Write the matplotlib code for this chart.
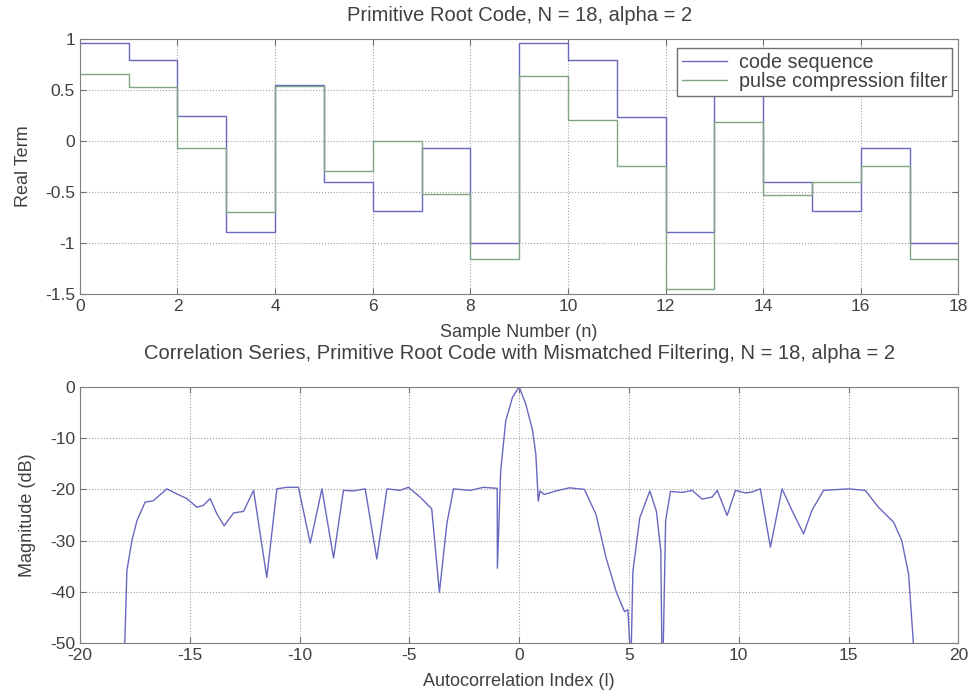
import numpy as np
import matplotlib
matplotlib.use("Agg")
import matplotlib.pyplot as plt

# top panel: real part per sample, n = 0..17
samples = np.arange(19)
code_seq = [0.96, 0.79, 0.25, -0.89, 0.55, -0.40, -0.685, -0.07, -1.0,
            0.96, 0.79, 0.24, -0.89, 0.55, -0.40, -0.69, -0.07, -1.0]
pc_filter = [0.66, 0.53, -0.07, -0.70, 0.54, -0.29, 0.0, -0.52, -1.16,
             0.64, 0.21, -0.24, -1.45, 0.19, -0.53, -0.40, -0.24, -1.16]

# bottom panel: correlation magnitude (dB) vs autocorrelation index
lag = [-18.02, -17.86, -17.63, -17.40, -17.03, -16.65, -16.04, -15.58, -15.13,
       -14.67, -14.37, -14.07, -13.76, -13.43, -13.00, -12.55, -12.09, -11.49,
       -11.03, -10.58, -10.05, -9.51, -8.98, -8.45, -8.00, -7.54, -7.01, -6.48,
       -6.02, -5.42, -5.04, -4.51, -3.98, -3.63, -3.29, -2.99, -2.23, -1.62,
       -1.00, -0.99, -0.84, -0.61, -0.30, 0.0, 0.30, 0.61, 0.76, 0.87, 0.95,
       1.14, 1.68, 2.29, 2.97, 3.50, 3.96, 4.42, 4.80, 4.95, 5.03, 5.06, 5.18,
       5.49, 5.95, 6.25, 6.45, 6.52, 6.67, 6.89, 7.42, 7.88, 8.33, 8.79, 9.02,
       9.47, 9.85, 10.30, 10.61, 10.98, 11.44, 11.97, 12.42, 12.95, 13.33,
       13.86, 15.00, 15.76, 16.36, 17.05, 17.42, 17.73, 17.95, 18.00]
mag_db = [-60, -35.9, -30.0, -26.1, -22.5, -22.2, -19.9, -20.9, -21.8,
          -23.5, -23.1, -21.8, -24.8, -27.1, -24.6, -24.3, -20.2, -37.2,
          -19.9, -19.6, -19.6, -30.5, -19.9, -33.4, -20.2, -20.3, -19.9, -33.6,
          -19.9, -20.2, -19.6, -21.5, -23.8, -40.1, -26.7, -19.9, -20.2, -19.6,
          -19.8, -35.4, -16.4, -6.6, -2.0, 0.0, -3.3, -8.5, -13.1, -22.3, -20.3,
          -21.0, -20.3, -19.7, -20.0, -24.9, -33.4, -40.0, -43.9, -43.5, -49.8, -60, -36.0,
          -25.6, -20.3, -24.3, -32.0, -60, -26.1, -20.4, -20.6, -20.2, -21.9, -21.5, -20.2,
          -25.1, -20.2, -20.7, -20.5, -19.9, -31.3, -19.9, -24.1, -28.7, -24.1,
          -20.2, -19.9, -20.2, -23.5, -26.4, -30.0, -36.5, -50.0, -60]

blue = '#6868c0'
green = '#7fa585'
txt = '#404040'
plt.rcParams['font.family'] = ['Liberation Sans', 'DejaVu Sans']
plt.rcParams['font.size'] = 12.5
plt.rcParams['axes.unicode_minus'] = False

fig = plt.figure(figsize=(9.74, 6.91), dpi=100)
ax1 = fig.add_axes([0.082, 0.5745, 0.902, 0.369])
ax2 = fig.add_axes([0.082, 0.0695, 0.902, 0.3705])


def matlab_style(ax):
    ax.grid(True, linestyle=':', color='#a0a0a0', linewidth=0.8)
    ax.tick_params(direction='in', top=True, right=True, colors='#707070',
                   labelcolor=txt, length=4, labelsize=12.5)
    for s in ax.spines.values():
        s.set_color('#808080')


ax1.step(samples, code_seq + [code_seq[-1]], where='post', color=blue,
         linewidth=1.0, label='code sequence')
ax1.step(samples, pc_filter + [pc_filter[-1]], where='post', color=green,
         linewidth=1.0, label='pulse compression filter')
ax1.set_xlim(0, 18)
ax1.set_ylim(-1.5, 1)
ax1.set_xticks(range(0, 19, 2))
ax1.set_yticks([-1.5, -1, -0.5, 0, 0.5, 1])
ax1.set_yticklabels(['-1.5', '-1', '-0.5', '0', '0.5', '1'])
ax1.set_title('Primitive Root Code, N = 18, alpha = 2', color=txt, pad=13,
              fontsize=14.5)
ax1.set_xlabel('Sample Number (n)', color=txt, labelpad=7, fontsize=13)
ax1.set_ylabel('Real Term', color=txt, labelpad=9, fontsize=13)
matlab_style(ax1)
leg = ax1.legend(loc='upper right', fancybox=False, framealpha=1,
                 edgecolor='#707070', handlelength=2.3, borderpad=0.25,
                 labelspacing=0.0, handletextpad=0.6, fontsize=14.2,
                 borderaxespad=0, bbox_to_anchor=(0.9932, 0.965))
for t in leg.get_texts():
    t.set_color(txt)

ax2.plot(lag, mag_db, color=blue, linewidth=1.0)
ax2.set_xlim(-20, 20)
ax2.set_ylim(-50, 0)
ax2.set_xticks(range(-20, 21, 5))
ax2.set_yticks(range(-50, 1, 10))
ax2.set_title('Correlation Series, Primitive Root Code with Mismatched Filtering, N = 18, alpha = 2',
              color=txt, pad=20, fontsize=14.5)
ax2.set_xlabel('Autocorrelation Index (l)', color=txt, labelpad=7, fontsize=13)
ax2.set_ylabel('Magnitude (dB)', color=txt, labelpad=10, fontsize=13)
matlab_style(ax2)

fig.savefig('out.png', dpi=100)
